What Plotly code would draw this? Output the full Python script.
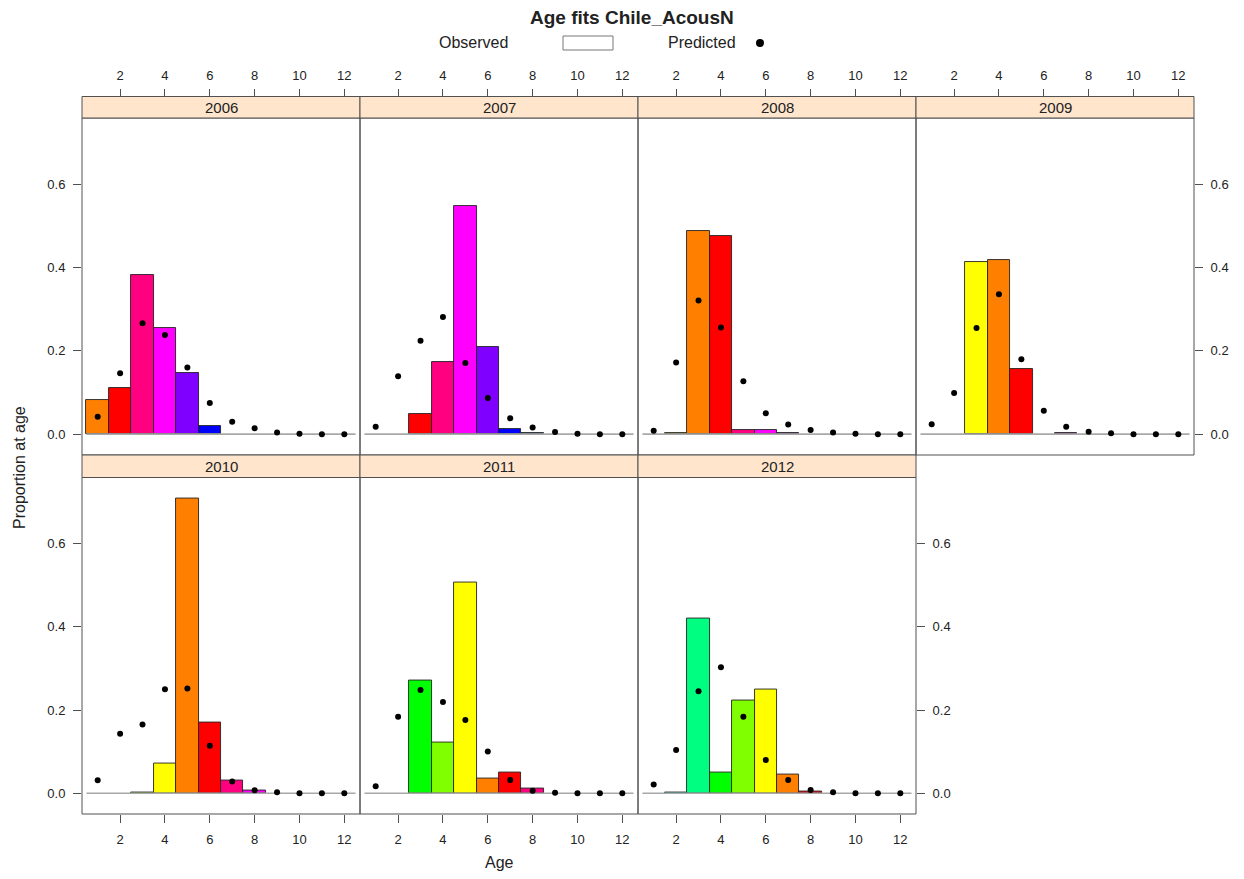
import colorsys
import plotly.graph_objects as go

# ---------------- data ----------------
ages = [1, 2, 3, 4, 5, 6, 7, 8, 9, 10, 11, 12]
years = [2006, 2007, 2008, 2009, 2010, 2011, 2012]

obs_2006 = [0.082, 0.110, 0.382, 0.256, 0.146, 0.019, 0, 0, 0, 0, 0, 0]
pred_2006 = [0.042, 0.146, 0.266, 0.238, 0.160, 0.075, 0.030, 0.014, 0.004, 0.001, 0.0, 0.0]
obs_2007 = [0, 0, 0.048, 0.174, 0.547, 0.210, 0.012, 0.002, 0, 0, 0, 0]
pred_2007 = [0.018, 0.139, 0.224, 0.281, 0.171, 0.087, 0.038, 0.016, 0.005, 0.001, 0.0, 0.0]
obs_2008 = [0, 0.002, 0.487, 0.476, 0.010, 0.011, 0.003, 0, 0, 0, 0, 0]
pred_2008 = [0.008, 0.172, 0.321, 0.256, 0.127, 0.050, 0.023, 0.010, 0.004, 0.001, 0.0, 0.0]
obs_2009 = [0, 0, 0.414, 0.419, 0.156, 0, 0.004, 0, 0, 0, 0, 0]
pred_2009 = [0.024, 0.099, 0.255, 0.336, 0.180, 0.056, 0.018, 0.006, 0.002, 0.0, 0.0, 0.0]
obs_2010 = [0, 0, 0.002, 0.072, 0.709, 0.169, 0.031, 0.007, 0, 0, 0, 0]
pred_2010 = [0.031, 0.143, 0.165, 0.250, 0.252, 0.114, 0.028, 0.007, 0.002, 0.0, 0.0, 0.0]
obs_2011 = [0, 0, 0.270, 0.122, 0.506, 0.035, 0.049, 0.011, 0, 0, 0, 0]
pred_2011 = [0.017, 0.184, 0.248, 0.219, 0.176, 0.100, 0.032, 0.006, 0.001, 0.0, 0.0, 0.0]
obs_2012 = [0, 0.001, 0.420, 0.049, 0.222, 0.250, 0.046, 0.003, 0, 0, 0, 0]
pred_2012 = [0.021, 0.104, 0.245, 0.303, 0.184, 0.080, 0.032, 0.008, 0.002, 0.0, 0.0, 0.0]

observed = [obs_2006, obs_2007, obs_2008, obs_2009, obs_2010, obs_2011, obs_2012]
predicted = [pred_2006, pred_2007, pred_2008, pred_2009, pred_2010, pred_2011, pred_2012]

x_ticks = [2, 4, 6, 8, 10, 12]
y_ticks = [0.0, 0.2, 0.4, 0.6]
y_tick_labels = ["0.0", "0.2", "0.4", "0.6"]

title = "Age fits Chile_AcousN"

# ---------------- layout helpers ----------------
W, H = 1244, 879
FONT = "Liberation Sans, Arial, Helvetica, sans-serif"
BOX = "#505050"
TXT = "#222222"


def px(x):
    return x / W


def py(y):
    return 1 - y / H


col_edges = [82, 360, 638, 916, 1194]
rows = [  # (strip_top, panel_top, panel_bottom)
    (96.5, 118, 455),
    (455, 477.5, 814),
]
panel_pos = [(0, 0), (0, 1), (0, 2), (0, 3), (1, 0), (1, 1), (1, 2)]

XR = [0.3, 12.7]
YR = [-0.05, 0.759]


def cohort_color(year, age):
    hue = (((year - age) - 2004) * 30) % 360
    r, g, b = colorsys.hsv_to_rgb(hue / 360.0, 1.0, 1.0)
    return "rgb(%d,%d,%d)" % (round(r * 255), round(g * 255), round(b * 255))


fig = go.Figure()
layout = dict(
    width=W, height=H,
    margin=dict(l=0, r=0, t=0, b=0),
    paper_bgcolor="white", plot_bgcolor="white",
    showlegend=False, bargap=0,
    font=dict(family=FONT, color=TXT),
)
shapes = []
annotations = []

for k, (yr, obs, pred) in enumerate(zip(years, observed, predicted)):
    r, c = panel_pos[k]
    st, pt, pb = rows[r]
    x0, x1 = col_edges[c], col_edges[c + 1]
    xa = "x" if k == 0 else "x%d" % (k + 1)
    ya = "y" if k == 0 else "y%d" % (k + 1)
    xkey = "xaxis" if k == 0 else "xaxis%d" % (k + 1)
    ykey = "yaxis" if k == 0 else "yaxis%d" % (k + 1)

    # zero reference line
    fig.add_trace(go.Scatter(
        x=[ages[0] - 0.5, ages[-1] + 0.5], y=[0, 0], mode="lines",
        line=dict(color="#a8a8a8", width=1.6), xaxis=xa, yaxis=ya, hoverinfo="skip"))
    # observed bars (empty ages are not drawn)
    fig.add_trace(go.Bar(
        x=ages, y=[v if v > 0 else None for v in obs], width=[1] * len(ages),
        marker=dict(color=[cohort_color(yr, a) for a in ages],
                    line=dict(color="#222222", width=0.9)),
        xaxis=xa, yaxis=ya, name="Observed"))
    # predicted dots
    fig.add_trace(go.Scatter(
        x=ages, y=pred, mode="markers",
        marker=dict(color="black", size=6),
        xaxis=xa, yaxis=ya, name="Predicted"))

    xax = dict(domain=[px(x0), px(x1)], range=XR, showgrid=False, zeroline=False,
               showline=False, tickvals=x_ticks, ticktext=[str(t) for t in x_ticks],
               tickfont=dict(size=13, family=FONT, color=TXT),
               ticks="outside", ticklen=8, tickcolor=BOX, tickwidth=1)
    if r == 0:
        xax.update(anchor="free", position=py(st), side="top", ticklabelstandoff=3)
    else:
        xax.update(anchor=ya, side="bottom", ticklabelstandoff=5)

    yax = dict(domain=[py(pb), py(pt)], range=YR, showgrid=False, zeroline=False,
               showline=False, anchor=xa, tickvals=y_ticks, ticktext=y_tick_labels,
               tickfont=dict(size=13, family=FONT, color=TXT),
               tickcolor=BOX, tickwidth=1, ticklen=8)
    if c == 0:
        yax.update(side="left", ticks="outside", showticklabels=True, ticklabelstandoff=5)
    elif (r == 0 and c == 3) or (r == 1 and c == 2):
        yax.update(side="right", ticks="outside", showticklabels=True, ticklabelstandoff=5)
    else:
        yax.update(ticks="", showticklabels=False)

    layout[xkey] = xax
    layout[ykey] = yax

    # panel box
    shapes.append(dict(type="rect", xref="paper", yref="paper",
                       x0=px(x0), x1=px(x1), y0=py(pb), y1=py(pt),
                       line=dict(color=BOX, width=1), fillcolor="rgba(0,0,0,0)", layer="above"))
    # strip
    shapes.append(dict(type="rect", xref="paper", yref="paper",
                       x0=px(x0), x1=px(x1), y0=py(pt), y1=py(st),
                       line=dict(color=BOX, width=1), fillcolor="#FFE5CC", layer="above"))
    annotations.append(dict(text=str(yr), xref="paper", yref="paper",
                            x=px((x0 + x1) / 2), y=py((st + pt) / 2),
                            xanchor="center", yanchor="middle", showarrow=False,
                            font=dict(size=15, family=FONT, color=TXT)))

# title and key
annotations.append(dict(text="<b>%s</b>" % title, xref="paper", yref="paper",
                        x=px(632), y=py(18), xanchor="center", yanchor="middle",
                        showarrow=False, font=dict(size=19, family=FONT, color=TXT)))
annotations.append(dict(text="Observed", xref="paper", yref="paper",
                        x=px(473.5), y=py(43), xanchor="center", yanchor="middle",
                        showarrow=False, font=dict(size=16, family=FONT, color=TXT)))
annotations.append(dict(text="Predicted", xref="paper", yref="paper",
                        x=px(701.5), y=py(43), xanchor="center", yanchor="middle",
                        showarrow=False, font=dict(size=16, family=FONT, color=TXT)))
shapes.append(dict(type="rect", xref="paper", yref="paper",
                   x0=px(563), x1=px(613), y0=py(50), y1=py(36),
                   line=dict(color="#777777", width=1), fillcolor="white"))
shapes.append(dict(type="circle", xref="paper", yref="paper",
                   x0=px(756), x1=px(764), y0=py(47), y1=py(39),
                   line=dict(color="black", width=0), fillcolor="black"))

# axis titles
annotations.append(dict(text="Age", xref="paper", yref="paper",
                        x=px(499), y=py(862), xanchor="center", yanchor="middle",
                        showarrow=False, font=dict(size=16, family=FONT, color=TXT)))
annotations.append(dict(text="Proportion at age", xref="paper", yref="paper",
                        x=px(19), y=py(468), xanchor="center", yanchor="middle",
                        textangle=-90, showarrow=False,
                        font=dict(size=16, family=FONT, color=TXT)))

layout["shapes"] = shapes
layout["annotations"] = annotations
fig.update_layout(**layout)

fig.write_html("out.html")
